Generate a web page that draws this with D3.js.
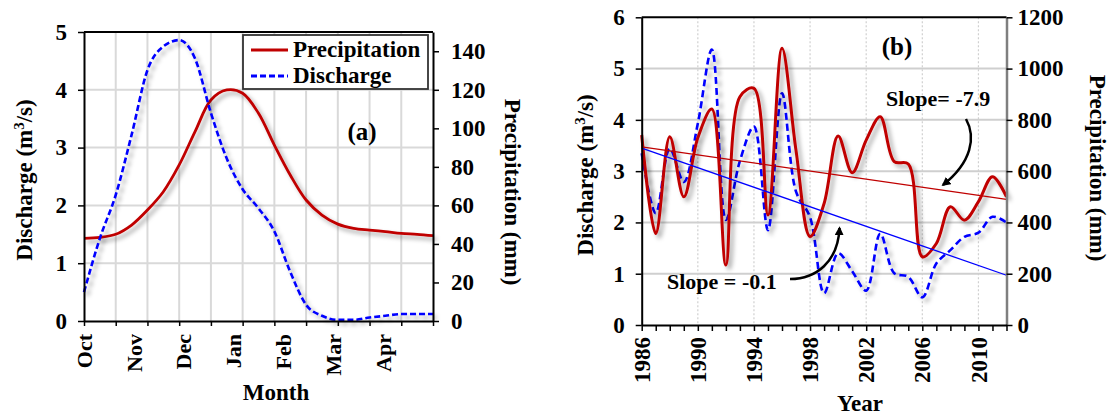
<!DOCTYPE html>
<html><head><meta charset="utf-8">
<script src="https://cdn.jsdelivr.net/npm/d3@7"></script>
<style>
body{margin:0;background:#fff}
text{font-family:"Liberation Serif","Times New Roman",serif;font-weight:bold;fill:#000}
</style>
</head><body>
<svg id="c" width="1112" height="415"></svg>
<script>
// ---------- Panel (a): monthly regime (23 samples evenly spread Oct -> May) ----------
const monthLabels = ["Oct","Nov","Dec","Jan","Feb","Mar","Apr"];
const precipA = [42.9,43.4,45,49.8,57.6,67.1,81,98.3,114.7,119.9,118.2,107.8,91.3,75.8,62.8,55,50.3,48.1,47.2,46.4,45.5,45,44.3];
const dischargeA = [0.5,1.43,2.18,3.22,4.34,4.75,4.86,4.54,3.6,2.81,2.28,1.95,1.55,0.85,0.28,0.09,0.02,0.02,0.06,0.09,0.12,0.12,0.12];
const leftTicksA = [0,1,2,3,4,5];
const rightTicksA = [0,20,40,60,80,100,120,140];

// ---------- Panel (b): annual series ----------
const years = [1986,1987,1988,1989,1990,1991,1992,1993,1994,1995,1996,1997,1998,1999,2000,2001,2002,2003,2004,2005,2006,2007,2008,2009,2010,2011,2012];
const precipB = [741,357,734,500,730,842,234,890,923,429,1079,680,345,474,737,594,721,812,637,628,266,318,461,409,481,578,500];
const dischargeB = [3.35,2.18,3.44,2.79,3.93,5.37,2.05,3.2,3.87,1.85,4.52,2.6,2.1,0.62,1.4,1.05,0.67,1.78,1.01,0.94,0.54,1.2,1.46,1.72,1.8,2.11,2.0];
const trendYears = [1986,2012];
const trendPrecip = [695,490];
const trendDischarge = [3.45,0.97];
const yearLabels = [1986,1990,1994,1998,2002,2006,2010];
const leftTicksB = [0,1,2,3,4,5,6];
const rightTicksB = [0,200,400,600,800,1000,1200];

const RED = "#C00000", BLUE = "#0000FF";
const TICK_FS = 23, TITLE_FS = 23;
const svg = d3.select("#c");
const defs = svg.append("defs");
defs.append("filter").attr("id","sh").attr("x","-10%").attr("y","-10%").attr("width","130%").attr("height","130%")
  .append("feDropShadow").attr("dx",3.5).attr("dy",3.5).attr("stdDeviation",2.3)
  .attr("flood-color","#000").attr("flood-opacity",0.35);
defs.append("marker").attr("id","ah").attr("viewBox","0 0 10 10").attr("refX",8).attr("refY",5)
  .attr("markerWidth",9).attr("markerHeight",9).attr("markerUnits","userSpaceOnUse").attr("orient","auto")
  .append("path").attr("d","M0,0 L10,5 L0,10 z").attr("fill","#000");

function styleAxis(g, fs){
  g.selectAll("text").style("font-size",fs+"px").style("font-family",'"Liberation Serif","Times New Roman",serif').style("font-weight","bold");
  g.selectAll("line").attr("stroke","#000").attr("stroke-width",1.5);
  g.select(".domain").attr("stroke-width",2);
}

// ================= Panel (a) =================
{
  const x0=84,x1=433,yT=32,yB=321;
  const xa = d3.scaleLinear([0,precipA.length-1],[x0,x1]);
  const ya = d3.scaleLinear([0,5],[yB,yT]);
  const yaR = d3.scaleLinear([0,150],[yB,yT]);
  const g = svg.append("g");
  const tickIdx = d3.range(0,precipA.length,2);
  g.append("g").selectAll("line").data(leftTicksA.filter(d=>d>0&&d<5)).join("line")
    .attr("x1",x0).attr("x2",x1).attr("y1",d=>ya(d)).attr("y2",d=>ya(d))
    .attr("stroke","#d9d9d9").attr("stroke-width",2);
  g.append("g").selectAll("line").data(tickIdx.slice(1,-1)).join("line")
    .attr("x1",d=>xa(d)).attr("x2",d=>xa(d)).attr("y1",yT).attr("y2",yB)
    .attr("stroke","#d9d9d9").attr("stroke-width",2);
  const idx = d3.range(precipA.length);
  g.append("path").datum(idx).attr("fill","none").attr("stroke",RED).attr("stroke-width",2.8)
    .attr("filter","url(#sh)")
    .attr("d",d3.line().x(i=>xa(i)).y(i=>yaR(precipA[i])).curve(d3.curveCatmullRom.alpha(0.5)));
  g.append("path").datum(idx).attr("fill","none").attr("stroke",BLUE).attr("stroke-width",2.6)
    .attr("stroke-dasharray","6,3").attr("filter","url(#sh)")
    .attr("d",d3.line().x(i=>xa(i)).y(i=>ya(dischargeA[i])).curve(d3.curveMonotoneX));
  g.append("line").attr("x1",x0).attr("x2",x1).attr("y1",yT).attr("y2",yT).attr("stroke","#000").attr("stroke-width",2);
  const gl = g.append("g").attr("transform",`translate(${x0},0)`)
    .call(d3.axisLeft(ya).tickValues(leftTicksA).tickSize(6).tickSizeOuter(0).tickPadding(11).tickFormat(d3.format("d")));
  styleAxis(gl,TICK_FS);
  const gr = g.append("g").attr("transform",`translate(${x1},0)`)
    .call(d3.axisRight(yaR).tickValues(rightTicksA).tickSize(6).tickSizeOuter(0).tickPadding(12).tickFormat(d3.format("d")));
  styleAxis(gr,TICK_FS);
  const gb = g.append("g").attr("transform",`translate(0,${yB})`)
    .call(d3.axisBottom(xa).tickValues(tickIdx).tickSize(5).tickSizeOuter(0).tickFormat(""));
  styleAxis(gb,TICK_FS);
  g.append("g").selectAll("text").data(monthLabels).join("text")
    .attr("transform",(d,i)=>`translate(${xa(i*(precipA.length-1)/7)},334) rotate(-90)`)
    .attr("text-anchor","end").attr("dy","0.35em").style("font-size","22px").text(d=>d);
  const t1 = g.append("text").attr("transform","translate(32,180) rotate(-90)").attr("text-anchor","middle").style("font-size",TITLE_FS+"px");
  t1.append("tspan").text("Discharge (m");
  t1.append("tspan").attr("dy",-8).style("font-size","15px").text("3");
  t1.append("tspan").attr("dy",8).text("/s)");
  g.append("text").attr("transform","translate(505,192) rotate(90)").attr("text-anchor","middle").style("font-size",TITLE_FS+"px").text("Precipitation (mm)");
  g.append("text").attr("x",276).attr("y",400).attr("text-anchor","middle").style("font-size",TITLE_FS+"px").text("Month");
  g.append("text").attr("x",362).attr("y",140).attr("text-anchor","middle").style("font-size","25px").text("(a)");
  const lg = g.append("g");
  lg.append("rect").attr("x",243).attr("y",35).attr("width",185).attr("height",54).attr("fill","#fff").attr("stroke","#333").attr("stroke-width",1.8);
  lg.append("line").attr("x1",251).attr("x2",288).attr("y1",50).attr("y2",50).attr("stroke",RED).attr("stroke-width",2.8);
  lg.append("line").attr("x1",251).attr("x2",288).attr("y1",76).attr("y2",76).attr("stroke",BLUE).attr("stroke-width",2.8).attr("stroke-dasharray","6,3");
  lg.append("text").attr("x",293).attr("y",57).style("font-size","23px").text("Precipitation");
  lg.append("text").attr("x",293).attr("y",83).style("font-size","23px").text("Discharge");
}

// ================= Panel (b) =================
{
  const x0=641.7,x1=1006.5,yT=17.3,yB=325;
  const xb = d3.scaleLinear([1986,2012],[x0,x1]);
  const yb = d3.scaleLinear([0,6],[yB,yT]);
  const ybR = d3.scaleLinear([0,1200],[yB,yT]);
  const g = svg.append("g");
  g.append("g").selectAll("line").data(leftTicksB.filter(d=>d>0&&d<6)).join("line")
    .attr("x1",x0).attr("x2",x1).attr("y1",d=>yb(d)).attr("y2",d=>yb(d))
    .attr("stroke","#cfcfcf").attr("stroke-width",2);
  g.append("g").selectAll("line").data(yearLabels.slice(1)).join("line")
    .attr("x1",d=>xb(d)).attr("x2",d=>xb(d)).attr("y1",yT).attr("y2",yB)
    .attr("stroke","#d0d0d0").attr("stroke-width",1.2).attr("stroke-dasharray","2,2");
  const idx = d3.range(years.length);
  g.append("path").datum(idx).attr("fill","none").attr("stroke",BLUE).attr("stroke-width",2.6)
    .attr("stroke-dasharray","7,4").attr("filter","url(#sh)")
    .attr("d",d3.line().x(i=>xb(years[i])).y(i=>yb(dischargeB[i])).curve(d3.curveCatmullRom.alpha(0.5)));
  g.append("path").datum(idx).attr("fill","none").attr("stroke",RED).attr("stroke-width",3)
    .attr("filter","url(#sh)")
    .attr("d",d3.line().x(i=>xb(years[i])).y(i=>ybR(precipB[i])).curve(d3.curveCatmullRom.alpha(0.5)));
  g.append("line").attr("x1",xb(trendYears[0])).attr("x2",xb(trendYears[1]))
    .attr("y1",ybR(trendPrecip[0])).attr("y2",ybR(trendPrecip[1])).attr("stroke",RED).attr("stroke-width",1.3);
  g.append("line").attr("x1",xb(trendYears[0])).attr("x2",xb(trendYears[1]))
    .attr("y1",yb(trendDischarge[0])).attr("y2",yb(trendDischarge[1])).attr("stroke",BLUE).attr("stroke-width",1.3);
  g.append("line").attr("x1",x0).attr("x2",x1).attr("y1",yT).attr("y2",yT).attr("stroke","#000").attr("stroke-width",2);
  const gl = g.append("g").attr("transform",`translate(${x0},0)`)
    .call(d3.axisLeft(yb).tickValues(leftTicksB).tickSize(6).tickSizeOuter(0).tickPadding(11).tickFormat(d3.format("d")));
  styleAxis(gl,TICK_FS);
  const gr = g.append("g").attr("transform",`translate(${x1},0)`)
    .call(d3.axisRight(ybR).tickValues(rightTicksB).tickSize(6).tickSizeOuter(0).tickPadding(5).tickFormat(d3.format("d")));
  styleAxis(gr,TICK_FS);
  gr.select(".domain").attr("stroke","#7f7f7f").attr("stroke-width",2.5);
  const gb = g.append("g").attr("transform",`translate(0,${yB})`)
    .call(d3.axisBottom(xb).tickValues(years).tickSize(6).tickSizeOuter(0).tickFormat(""));
  styleAxis(gb,TICK_FS);
  g.append("g").selectAll("text").data(yearLabels).join("text")
    .attr("transform",d=>`translate(${xb(d)},337) rotate(-90)`)
    .attr("text-anchor","end").attr("dy","0.35em").style("font-size","23px").text(d=>d);
  const t1 = g.append("text").attr("transform","translate(593,175) rotate(-90)").attr("text-anchor","middle").style("font-size",TITLE_FS+"px");
  t1.append("tspan").text("Discharge (m");
  t1.append("tspan").attr("dy",-8).style("font-size","15px").text("3");
  t1.append("tspan").attr("dy",8).text("/s)");
  g.append("text").attr("transform","translate(1090,168) rotate(90)").attr("text-anchor","middle").style("font-size",TITLE_FS+"px").text("Precipitation (mm)");
  g.append("text").attr("x",860).attr("y",411).attr("text-anchor","middle").style("font-size",TITLE_FS+"px").text("Year");
  g.append("text").attr("x",897).attr("y",55).attr("text-anchor","middle").style("font-size","25px").text("(b)");
  g.append("text").attr("x",886).attr("y",106).style("font-size","22px").text("Slope= -7.9");
  g.append("text").attr("x",667).attr("y",289).style("font-size","22px").text("Slope = -0.1");
  g.append("path").attr("d","M966,119 C976,137 972,162 943,185").attr("fill","none").attr("stroke","#000").attr("stroke-width",2.5).attr("marker-end","url(#ah)");
  g.append("path").attr("d","M790,279 C816,279 838,262 839.5,228").attr("fill","none").attr("stroke","#000").attr("stroke-width",2.5).attr("marker-end","url(#ah)");
}
</script>
</body></html>
